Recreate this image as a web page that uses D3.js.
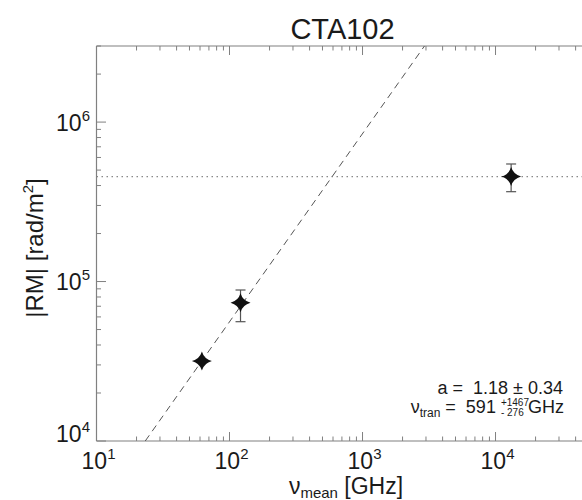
<!DOCTYPE html>
<html>
<head>
<meta charset="utf-8">
<script src="https://cdn.jsdelivr.net/npm/d3@7"></script>
<style>
  html, body { margin: 0; padding: 0; background: #fff; }
  svg { display: block; font-family: "Liberation Sans", Arial, Helvetica, sans-serif; }
</style>
</head>
<body>
<svg id="chart" width="582" height="500"></svg>
<script>
// Rotation measure core-shift data for CTA102
const sourceName = "CTA102";
const freqGHz = [62, 121, 13100];          // mean frequency of each pair
const rmAbs   = [31700, 73500, 455000];    // |RM| in rad/m^2
const rmLow   = [null, 56000, 366000];     // lower error bound
const rmHigh  = [null, 88500, 546000];     // upper error bound

// Power-law fit RM ∝ ν^a, saturating at the high-frequency level
const fitA = 1.18, fitAErr = 0.34;
const nuTran = 591, nuTranUp = 1467, nuTranDown = 276;
const rmSat = 455000;

const xDomain = [10, 5e4];
const yDomain = [1e4, 3e6];
const xMajor = [10, 100, 1000, 10000];
const yMajor = [1e4, 1e5, 1e6];
const xExp = ["1", "2", "3", "4"];
const yExp = ["4", "5", "6"];

const svg = d3.select("#chart");
const padL = 96.5, padR = 588.5, padT = 46, padB = 441;

const x = d3.scaleLog().domain(xDomain).range([padL, padR]);
const y = d3.scaleLog().domain(yDomain).range([padB, padT]);

const axisCol = "#808080";
const textCol = "#1a1a1a";
const NB = "\u00A0";

// Frame (left, bottom, top lines; right edge lies past the page)
svg.append("line").attr("x1", padL).attr("x2", padL).attr("y1", padT).attr("y2", padB)
  .attr("stroke", axisCol).attr("stroke-width", 1.2);
svg.append("line").attr("x1", padL).attr("x2", padR).attr("y1", padB).attr("y2", padB)
  .attr("stroke", axisCol).attr("stroke-width", 1.2);
svg.append("line").attr("x1", padL).attr("x2", padR).attr("y1", padT).attr("y2", padT)
  .attr("stroke", axisCol).attr("stroke-width", 1.2);

// Inward-pointing ticks
const isMajor = v => Math.abs(Math.log10(v) - Math.round(Math.log10(v))) < 1e-9;
const xTicks = x.ticks();
const yTicks = y.ticks();
const tg = svg.append("g").attr("stroke", axisCol).attr("stroke-width", 1);
xTicks.forEach(v => {
  const L = isMajor(v) ? 9 : 4.5;
  const px = x(v);
  tg.append("line").attr("x1", px).attr("x2", px).attr("y1", padB).attr("y2", padB - L);
  tg.append("line").attr("x1", px).attr("x2", px).attr("y1", padT).attr("y2", padT + L);
});
yTicks.forEach(v => {
  const L = isMajor(v) ? 9.5 : 4.5;
  const py = y(v);
  tg.append("line").attr("x1", padL).attr("x2", padL + L).attr("y1", py).attr("y2", py);
});

// Tick labels
xMajor.forEach((v, i) => {
  const t = svg.append("text").attr("x", x(v) + 2).attr("y", 469)
    .attr("text-anchor", "middle").attr("fill", textCol).attr("font-size", 23);
  t.append("tspan").text("10");
  t.append("tspan").attr("font-size", 15).attr("dy", -10).text(xExp[i]);
});
yMajor.forEach((v, i) => {
  const by = Math.min(y(v) + 8.5, padB + 1);
  const t = svg.append("text").attr("x", 90).attr("y", by)
    .attr("text-anchor", "end").attr("fill", textCol).attr("font-size", 23);
  t.append("tspan").text("10");
  t.append("tspan").attr("font-size", 15).attr("dy", -10).text(yExp[i]);
});

// Title
svg.append("text").attr("x", (padL + padR) / 2).attr("y", 39)
  .attr("text-anchor", "middle").attr("fill", textCol).attr("font-size", 29)
  .text(sourceName);

// Axis titles
const xl = svg.append("text").attr("x", 346).attr("y", 494)
  .attr("text-anchor", "middle").attr("fill", textCol).attr("font-size", 23);
xl.append("tspan").text("ν");
xl.append("tspan").attr("font-size", 15).attr("dy", 4).text("mean");
xl.append("tspan").attr("dy", -4).text(NB + "[GHz]");

const yl = svg.append("text").attr("transform", "translate(43,248) rotate(-90)")
  .attr("text-anchor", "middle").attr("fill", textCol).attr("font-size", 24);
yl.append("tspan").text("|RM|" + NB + "[rad/m");
yl.append("tspan").attr("font-size", 15).attr("dy", -10).text("2");
yl.append("tspan").attr("dy", 10).text("]");

// Clip for lines inside the plotting box
svg.append("clipPath").attr("id", "plotclip").append("rect")
  .attr("x", padL).attr("y", padT).attr("width", padR - padL).attr("height", padB - padT);
const plot = svg.append("g").attr("clip-path", "url(#plotclip)");

// Saturation level (dotted)
plot.append("line").attr("x1", padL).attr("x2", padR)
  .attr("y1", y(rmSat)).attr("y2", y(rmSat))
  .attr("stroke", "#888").attr("stroke-width", 1.2).attr("stroke-dasharray", "1.5,3.5");

// Power-law fit (dashed): RM = rmSat * (ν / ν_tran)^a
const nuAt = rm => nuTran * Math.pow(rm / rmSat, 1 / fitA);
const fitPts = [yDomain[0], yDomain[1]].map(r => [x(nuAt(r)), y(r)]);
plot.append("path").attr("d", d3.line()(fitPts))
  .attr("fill", "none").attr("stroke", "#555").attr("stroke-width", 1)
  .attr("stroke-dasharray", "7,5");

// Error bars
const eg = svg.append("g").attr("stroke", "#555").attr("stroke-width", 1.2);
freqGHz.forEach((f, i) => {
  if (rmLow[i] == null) return;
  const px = x(f);
  eg.append("line").attr("x1", px).attr("x2", px).attr("y1", y(rmLow[i])).attr("y2", y(rmHigh[i]));
  [rmLow[i], rmHigh[i]].forEach(r => {
    eg.append("line").attr("x1", px - 5).attr("x2", px + 5).attr("y1", y(r)).attr("y2", y(r));
  });
});

// Four-pointed star markers
const star = (rx, ry) => {
  const kx = rx * 0.22, ky = ry * 0.22;
  return `M0,${-ry} Q${kx},${-ky} ${rx},0 Q${kx},${ky} 0,${ry} Q${-kx},${ky} ${-rx},0 Q${-kx},${-ky} 0,${-ry}Z`;
};
svg.append("g").selectAll("path").data(freqGHz).join("path")
  .attr("transform", (f, i) => `translate(${x(f)},${y(rmAbs[i])})`)
  .attr("d", star(10, 9.5)).attr("fill", "#111");

// Fit annotation
const fs = 18;
svg.append("text").attr("x", 563).attr("y", 394)
  .attr("text-anchor", "end").attr("fill", textCol).attr("font-size", fs)
  .text(`a =${NB}${NB}${fitA.toFixed(2)} ± ${fitAErr.toFixed(2)}`);

// Second line is laid out piece by piece so the +/- scripts can stack
const g2 = svg.append("g").attr("fill", textCol);
const base2 = 413;
const pieceA = g2.append("text").attr("y", base2).attr("font-size", fs);
pieceA.append("tspan").text("ν");
pieceA.append("tspan").attr("font-size", 12).attr("dy", 4).text("tran");
pieceA.append("tspan").attr("dy", -4).text(`${NB}=${NB}${NB}${nuTran}${NB}`);
const up = g2.append("text").attr("y", base2 - 7.5).attr("font-size", 10).text(`+${nuTranUp}`);
const dn = g2.append("text").attr("y", base2 + 2.5).attr("font-size", 10).text(`-${NB}${nuTranDown}`);
const unit = g2.append("text").attr("y", base2).attr("font-size", fs).text("GHz");
const wA = pieceA.node().getComputedTextLength();
const wS = Math.max(up.node().getComputedTextLength(), dn.node().getComputedTextLength());
const wU = unit.node().getComputedTextLength();
const x0 = 565 - (wA + wS + wU);
pieceA.attr("x", x0);
up.attr("x", x0 + wA);
dn.attr("x", x0 + wA);
unit.attr("x", x0 + wA + wS - 1);
</script>
</body>
</html>
